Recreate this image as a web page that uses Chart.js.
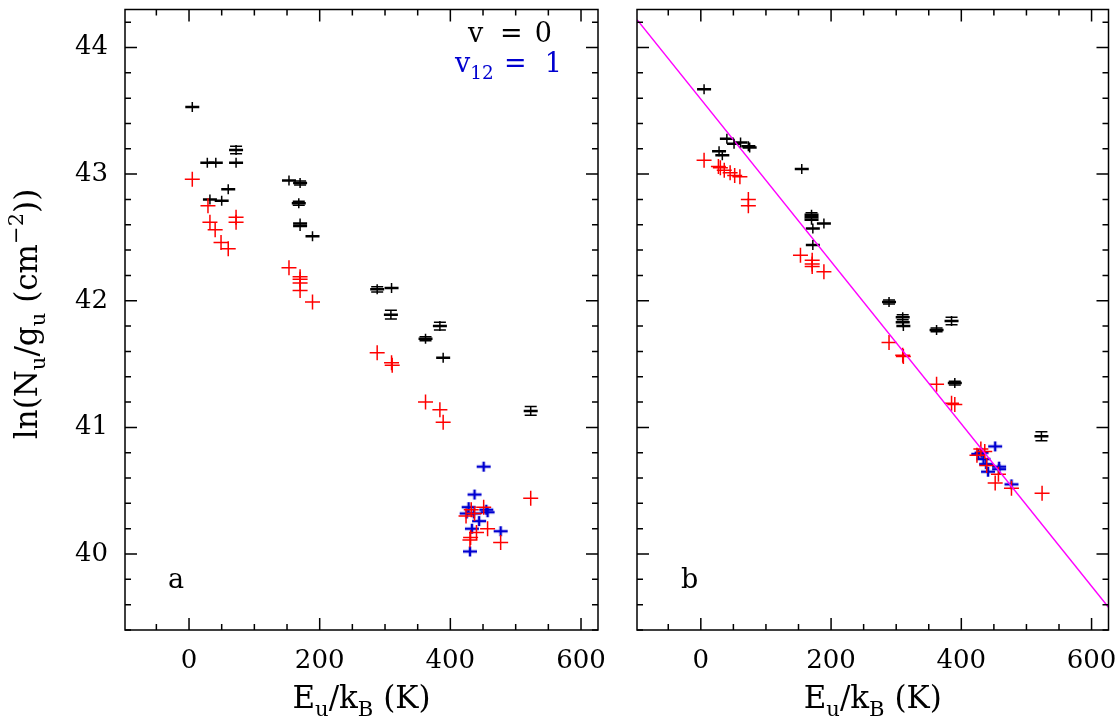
<!DOCTYPE html>
<html>
<head>
<meta charset="utf-8">
<script src="https://cdn.jsdelivr.net/npm/chart.js@4.4.1/dist/chart.umd.min.js"></script>
<style>
  html, body { margin: 0; padding: 0; background: #fff; }
  #wrap { position: relative; width: 1118px; height: 718px; }
  canvas { position: absolute; top: 0; }
</style>
</head>
<body>
<div id="wrap">
  <canvas id="chartA" width="612" height="718" style="left:0"></canvas>
  <canvas id="chartB" width="506" height="718" style="left:612px"></canvas>
</div>
<script>
// panel a : v=0 (black), fit-corrected v=0 (red), v12=1 (blue)
var aBlackE = [5, 72, 72, 28, 41, 60, 32, 50, 153, 170, 168, 170, 170, 189, 288, 310, 309, 384, 362, 389, 523];
var aBlackV = [43.53, 43.19, 43.09, 43.09, 43.09, 42.88, 42.80, 42.79, 42.95, 42.93, 42.77, 42.61, 42.59, 42.51, 42.09, 42.10, 41.89, 41.80, 41.70, 41.55, 41.13];
var aBlackErr = [0, 0.03, 0, 0, 0, 0, 0, 0, 0, 0.015, 0.015, 0, 0, 0, 0.02, 0, 0.035, 0.03, 0.015, 0, 0.035];

var aRedE = [5, 29, 32, 40, 49, 60, 72, 72, 153, 170, 170, 170, 170, 189, 288, 310, 311, 362, 384, 389, 523,
             424, 432, 451, 437, 457, 440, 431, 430, 477];
var aRedV = [42.96, 42.75, 42.62, 42.56, 42.46, 42.41, 42.66, 42.62, 42.26, 42.19, 42.17, 42.14, 42.08, 41.99, 41.59, 41.51, 41.49, 41.20, 41.14, 41.04, 40.44,
             40.30, 40.35, 40.37, 40.32, 40.20, 40.17, 40.13, 40.11, 40.09];

var aBlueE = [451, 437, 428, 425, 436, 455, 457, 444, 433, 477, 430];
var aBlueV = [40.69, 40.47, 40.37, 40.32, 40.32, 40.35, 40.33, 40.26, 40.20, 40.18, 40.02];

// panel b
var bBlackE = [5, 40, 51, 61, 73, 75, 28, 33, 155, 170, 170, 170, 189, 172, 172, 289, 310, 310, 311, 385, 362, 390, 523];
var bBlackV = [43.67, 43.28, 43.24, 43.25, 43.22, 43.21, 43.18, 43.15, 43.04, 42.68, 42.66, 42.64, 42.61, 42.57, 42.44, 41.99, 41.87, 41.83, 41.80, 41.84, 41.77, 41.35, 40.93];
var bBlackErr = [0, 0, 0, 0, 0, 0, 0, 0, 0, 0.015, 0, 0, 0, 0, 0, 0.015, 0.02, 0, 0, 0.03, 0.015, 0.015, 0.035];

var bRedE = [5, 27, 30, 36, 45, 52, 60, 73, 73, 153, 171, 171, 171, 189, 289, 310, 311, 362, 385, 390,
             430, 424, 436, 439, 457, 452, 477, 524];
var bRedV = [43.11, 43.06, 43.05, 43.03, 43.01, 42.99, 42.98, 42.80, 42.75, 42.36, 42.32, 42.29, 42.27, 42.23, 41.67, 41.57, 41.56, 41.34, 41.19, 41.18,
             40.83, 40.78, 40.81, 40.70, 40.63, 40.56, 40.52, 40.48];

var bBlueE = [452, 426, 431, 434, 438, 441, 458, 458, 477];
var bBlueV = [40.85, 40.79, 40.80, 40.75, 40.71, 40.65, 40.69, 40.67, 40.55];

// rotation diagram fit
var fitE = [-98, 626];
var fitV = [44.22, 39.58];

var X_MIN = -98, X_MAX = 626;
var Y_MIN = 39.4, Y_MAX = 44.3;
var FONT = '"DejaVu Serif", serif';
var BLUE = '#0000d0';
var RED = '#ff0000';

function pts(xs, ys) {
    return xs.map(function(x, i) { return {x: x, y: ys[i]}; });
}

// blue marker: a "+" wider than tall
var blueMark = document.createElement('canvas');
blueMark.width = 16; blueMark.height = 12;
(function() {
    var c = blueMark.getContext('2d');
    c.strokeStyle = BLUE; c.lineWidth = 2.5;
    c.beginPath();
    c.moveTo(1, 6); c.lineTo(15, 6);
    c.moveTo(8, 1); c.lineTo(8, 11);
    c.stroke();
})();

function drawRich(ctx, parts, x, y, size, align) {
    var w = 0;
    parts.forEach(function(p) {
        ctx.font = (p[1] ? size * 0.68 : size) + 'px ' + FONT;
        w += ctx.measureText(p[0]).width;
    });
    var cx = align === 'center' ? x - w / 2 : (align === 'right' ? x - w : x);
    ctx.textAlign = 'left';
    ctx.textBaseline = 'alphabetic';
    parts.forEach(function(p) {
        var dy = p[1] === 'sub' ? size * 0.27 : (p[1] === 'sup' ? -size * 0.45 : 0);
        ctx.font = (p[1] ? size * 0.68 : size) + 'px ' + FONT;
        ctx.fillText(p[0], cx, y + dy);
        cx += ctx.measureText(p[0]).width;
    });
}

// frame + inward ticks on all four sides
var frameTicks = {
    id: 'frameTicks',
    afterDraw: function(chart) {
        var ctx = chart.ctx, a = chart.chartArea;
        var xs = chart.scales.x, ys = chart.scales.y;
        ctx.save();
        ctx.strokeStyle = '#000';
        ctx.lineWidth = 1.5;
        ctx.strokeRect(a.left, a.top, a.right - a.left, a.bottom - a.top);
        ctx.beginPath();
        for (var v = Math.ceil(X_MIN / 50) * 50; v <= X_MAX; v += 50) {
            var px = xs.getPixelForValue(v);
            var len = v % 200 === 0 ? 12 : 6;
            ctx.moveTo(px, a.bottom); ctx.lineTo(px, a.bottom - len);
            ctx.moveTo(px, a.top); ctx.lineTo(px, a.top + len);
        }
        for (var k = Math.ceil(Y_MIN * 5); k <= Math.floor(Y_MAX * 5); k++) {
            var py = ys.getPixelForValue(k / 5);
            var l2 = k % 5 === 0 ? 12 : 6;
            ctx.moveTo(a.left, py); ctx.lineTo(a.left + l2, py);
            ctx.moveTo(a.right, py); ctx.lineTo(a.right - l2, py);
        }
        ctx.stroke();
        ctx.restore();
    }
};

// vertical error bars for the black points
var errBars = {
    id: 'errBars',
    afterDatasetsDraw: function(chart) {
        var ctx = chart.ctx, ys = chart.scales.y;
        chart.data.datasets.forEach(function(ds, i) {
            if (!ds.errY) return;
            var meta = chart.getDatasetMeta(i);
            ctx.save();
            ctx.strokeStyle = '#000';
            ctx.lineWidth = 1.5;
            ctx.beginPath();
            meta.data.forEach(function(el, j) {
                var e = ds.errY[j];
                var ePx = ys.getPixelForValue(ds.data[j].y - e) - el.y;
                var half = Math.max(ePx, 5);
                ctx.moveTo(el.x, el.y - half); ctx.lineTo(el.x, el.y + half);
                if (ePx >= 1.5) {
                    ctx.moveTo(el.x - 6, el.y - ePx); ctx.lineTo(el.x + 6, el.y - ePx);
                    ctx.moveTo(el.x - 6, el.y + ePx); ctx.lineTo(el.x + 6, el.y + ePx);
                }
            });
            ctx.stroke();
            ctx.restore();
        });
    }
};

function noPad(s) {
    s.paddingTop = 0; s.paddingBottom = 0;
    s.paddingLeft = 0; s.paddingRight = 0;
}

function makeScales(showY, yWidth) {
    return {
        x: {
            type: 'linear', min: X_MIN, max: X_MAX,
            grid: { display: false, drawTicks: false },
            border: { display: false },
            ticks: {
                stepSize: 50, includeBounds: false, autoSkip: false, maxRotation: 0, padding: 16, color: '#000',
                font: { family: FONT, size: 26 },
                callback: function(v) { return v % 200 === 0 ? String(v) : ''; }
            },
            afterFit: function(s) { s.height = 88; noPad(s); }
        },
        y: {
            type: 'linear', min: Y_MIN, max: Y_MAX,
            grid: { display: false, drawTicks: false },
            border: { display: false },
            ticks: {
                display: showY, stepSize: 1, includeBounds: false, padding: 17, color: '#000',
                font: { family: FONT, size: 26 },
                callback: function(v) { return Number.isInteger(v) ? String(v) : ''; }
            },
            afterFit: function(s) { s.width = yWidth; noPad(s); }
        }
    };
}

function makeDatasets(blackE, blackV, blackErr, redE, redV, blueE, blueV, withFit) {
    var ds = [
        { data: pts(redE, redV), pointStyle: 'cross', pointRadius: 7.5, borderColor: RED, borderWidth: 1.5, order: 1 },
        { data: pts(blueE, blueV), pointStyle: blueMark, pointRadius: 7, order: 2 },
        { data: pts(blackE, blackV), errY: blackErr, pointStyle: 'line', pointRadius: 7, borderColor: '#000', borderWidth: 2.5, order: 3 }
    ];
    if (withFit) {
        ds.push({ type: 'line', data: pts(fitE, fitV), borderColor: '#ff00ff', borderWidth: 1.5, pointRadius: 0, order: 0 });
    }
    return ds;
}

var xTitle = [['E'], ['u', 'sub'], ['/k'], ['B', 'sub'], [' (K)']];

document.addEventListener('DOMContentLoaded', function() {
    var labelsA = {
        id: 'labelsA',
        afterDraw: function(chart) {
            var ctx = chart.ctx, a = chart.chartArea;
            ctx.save();
            ctx.fillStyle = '#000';
            drawRich(ctx, xTitle, (a.left + a.right) / 2, 708, 31, 'center');
            ctx.translate(37, 314);
            ctx.rotate(-Math.PI / 2);
            drawRich(ctx, [['ln(N'], ['u', 'sub'], ['/g'], ['u', 'sub'], [' (cm'], ['\u22122', 'sup'], ['))']], 0, 0, 31, 'center');
            ctx.restore();

            ctx.save();
            ctx.fillStyle = '#000';
            drawRich(ctx, [['v']], 468, 42, 27, 'left');
            drawRich(ctx, [['=']], 500, 42, 27, 'left');
            drawRich(ctx, [['0']], 552, 42, 27, 'right');
            ctx.fillStyle = BLUE;
            drawRich(ctx, [['v'], ['12', 'sub']], 455, 72, 27, 'left');
            drawRich(ctx, [['=']], 504, 72, 27, 'left');
            drawRich(ctx, [['1']], 562, 72, 27, 'right');
            ctx.fillStyle = '#000';
            drawRich(ctx, [['a']], 168, 588, 27, 'left');
            ctx.restore();
        }
    };

    var labelsB = {
        id: 'labelsB',
        afterDraw: function(chart) {
            var ctx = chart.ctx, a = chart.chartArea;
            ctx.save();
            ctx.fillStyle = '#000';
            drawRich(ctx, xTitle, (a.left + a.right) / 2, 708, 31, 'center');
            drawRich(ctx, [['b']], 69, 588, 27, 'left');
            ctx.restore();
        }
    };

    new Chart(document.getElementById('chartA').getContext('2d'), {
        type: 'scatter',
        data: { datasets: makeDatasets(aBlackE, aBlackV, aBlackErr, aRedE, aRedV, aBlueE, aBlueV, false) },
        options: {
            responsive: false,
            animation: false,
            layout: { padding: { top: 1, right: 14, left: 0, bottom: 0 } },
            plugins: { legend: { display: false }, tooltip: { enabled: false } },
            scales: makeScales(true, 125)
        },
        plugins: [frameTicks, errBars, labelsA]
    });

    new Chart(document.getElementById('chartB').getContext('2d'), {
        type: 'scatter',
        data: { datasets: makeDatasets(bBlackE, bBlackV, bBlackErr, bRedE, bRedV, bBlueE, bBlueV, true) },
        options: {
            responsive: false,
            animation: false,
            layout: { padding: { top: 1, right: 9, left: 0, bottom: 0 } },
            plugins: { legend: { display: false }, tooltip: { enabled: false } },
            scales: makeScales(false, 25)
        },
        plugins: [frameTicks, errBars, labelsB]
    });
});
</script>
</body>
</html>
